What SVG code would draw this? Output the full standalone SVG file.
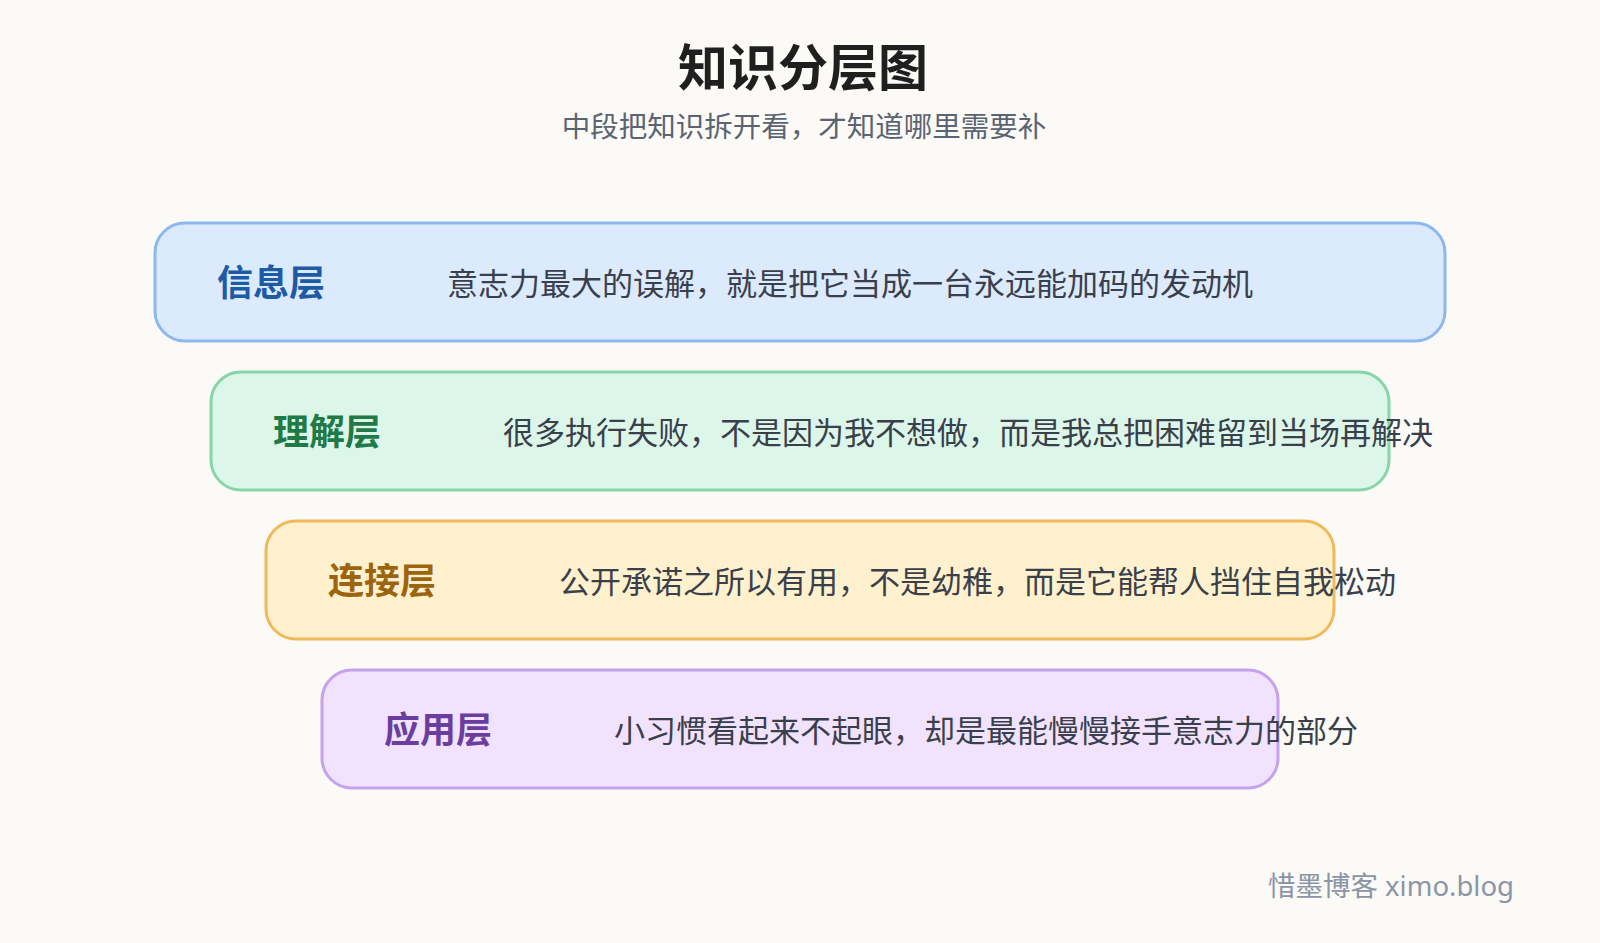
<svg xmlns="http://www.w3.org/2000/svg" width="1600" height="943" viewBox="0 0 1600 943">
<style>
text{font-family:"Noto Sans","Noto Sans CJK SC",sans-serif;}
.title{font-size:50px;font-weight:700;fill:#1f1f1f;}
.sub{font-size:28.5px;fill:#5b6472;}
.box{stroke-width:3;}
.label{font-size:36px;font-weight:700;}
.desc{font-size:31px;fill:#3a404b;}
.foot{font-size:27.5px;fill:#8b95a5;}
</style>
<rect width="1600" height="943" fill="#fbfaf6"/>
<text class="title" x="803" y="67" text-anchor="middle" dominant-baseline="central">知识分层图</text>
<text class="sub" x="804" y="126" text-anchor="middle" dominant-baseline="central">中段把知识拆开看，才知道哪里需要补</text>
<g id="connectors"></g>
<g id="layer-info">
<rect class="box" x="155" y="223" width="1290" height="118" rx="30" fill="#dceafd" stroke="#8db8ee"/>
<text class="label" x="217" y="282" dominant-baseline="central" fill="#1d5ba6">信息层</text>
<text class="desc" x="447" y="283" dominant-baseline="central">意志力最大的误解，就是把它当成一台永远能加码的发动机</text>
</g>
<g id="layer-understand">
<rect class="box" x="211" y="372" width="1178" height="118" rx="30" fill="#dcf7e9" stroke="#88d5a9"/>
<text class="label" x="273" y="431" dominant-baseline="central" fill="#1f7a48">理解层</text>
<text class="desc" x="503" y="432" dominant-baseline="central">很多执行失败，不是因为我不想做，而是我总把困难留到当场再解决</text>
</g>
<g id="layer-connect">
<rect class="box" x="266" y="521" width="1068" height="118" rx="30" fill="#fff1cd" stroke="#f0ba5c"/>
<text class="label" x="328" y="580" dominant-baseline="central" fill="#9c640e">连接层</text>
<text class="desc" x="559" y="581" dominant-baseline="central">公开承诺之所以有用，不是幼稚，而是它能帮人挡住自我松动</text>
</g>
<g id="layer-apply">
<rect class="box" x="322" y="670" width="956" height="118" rx="30" fill="#f1e2fe" stroke="#c5a2ee"/>
<text class="label" x="384" y="729" dominant-baseline="central" fill="#6a3d9f">应用层</text>
<text class="desc" x="614" y="730" dominant-baseline="central">小习惯看起来不起眼，却是最能慢慢接手意志力的部分</text>
</g>
<text class="foot" x="1514" y="885" text-anchor="end" dominant-baseline="central">惜墨博客 ximo.blog</text>
</svg>
